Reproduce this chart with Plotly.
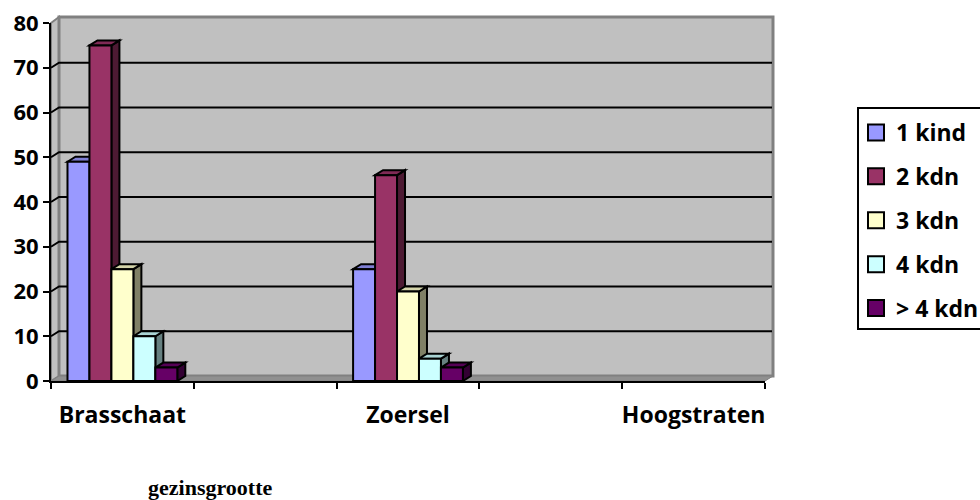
import plotly.graph_objects as go

categories = ["Brasschaat", " ", "Zoersel", "  ", "Hoogstraten"]
series_names = ["1 kind", "2 kdn", "3 kdn", "4 kdn", "> 4 kdn"]
kind1 = [49, None, 25, None, None]
kdn2 = [75, None, 46, None, None]
kdn3 = [25, None, 20, None, None]
kdn4 = [10, None, 5, None, None]
kdn5 = [3, None, 3, None, None]
series_values = [kind1, kdn2, kdn3, kdn4, kdn5]
y_ticks = [0, 10, 20, 30, 40, 50, 60, 70, 80]

front = ["#9999FF", "#993366", "#FFFFCC", "#CCFFFF", "#660066"]
top = ["#7F7FD4", "#7F2A55", "#D4D4AA", "#AAD4D4", "#550055"]
side = ["#4C4C80", "#4D1A33", "#808066", "#668080", "#330033"]

W, H = 980, 500
L, R, T, B = 51, 765, 23, 381
DX, DY = 8, 5
FONT = "Open Sans"
px_x = (R - L) / len(categories)
px_y = (B - T) / 80
GAP = 0.231
bar_w = (1 - GAP) / 5
dx = DX / px_x
dy = DY / px_y


def px(x):
    return (x - L) / (R - L)


def py(y):
    return (B - y) / (B - T)


def poly_paper(pts):
    return "M" + " L".join(f"{px(a):.5f},{py(b):.5f}" for a, b in pts) + " Z"


shapes = []
GREY = "#808080"
# left wall, floor, back wall
shapes.append(dict(type="path", xref="paper", yref="paper", layer="below",
                   path=poly_paper([(L, T), (L + DX, T - DY - 1), (L + DX, B - DY), (L, B)]),
                   fillcolor="#C0C0C0", line=dict(color=GREY, width=2)))
shapes.append(dict(type="path", xref="paper", yref="paper", layer="below",
                   path=poly_paper([(L + DX, T - DY - 1), (R + DX, T - DY - 1), (R + DX, B - DY), (L + DX, B - DY)]),
                   fillcolor="#C0C0C0", line=dict(color=GREY, width=3)))
shapes.append(dict(type="path", xref="paper", yref="paper", layer="below",
                   path=poly_paper([(L, B), (L + DX, B - DY), (R + DX, B - DY), (R, B)]),
                   fillcolor="#909090", line=dict(color=GREY, width=1)))
# gridlines on the back wall with their connection to the axis
for v in y_ticks[1:-1]:
    yp = B - v * px_y
    shapes.append(dict(type="path", xref="paper", yref="paper", layer="below",
                       path=f"M{px(L):.5f},{py(yp):.5f} L{px(L+DX):.5f},{py(yp-DY):.5f} L{px(R+DX-1):.5f},{py(yp-DY):.5f}",
                       line=dict(color="black", width=2)))

# depth faces of the bars, computed from the data
for c in range(len(categories)):
    for k, vals in enumerate(series_values):
        v = vals[c]
        if v is None:
            continue
        x0 = c - (1 - GAP) / 2 + k * bar_w
        x1 = x0 + bar_w
        shapes.append(dict(type="path", xref="x", yref="y", layer="below",
                           path=f"M{x1:.4f},0 L{x1+dx:.4f},{dy:.4f} L{x1+dx:.4f},{v+dy:.4f} L{x1:.4f},{v:.4f} Z",
                           fillcolor=side[k], line=dict(color="black", width=2)))
        shapes.append(dict(type="path", xref="x", yref="y", layer="below",
                           path=f"M{x0:.4f},{v:.4f} L{x0+dx:.4f},{v+dy:.4f} L{x1+dx:.4f},{v+dy:.4f} L{x1:.4f},{v:.4f} Z",
                           fillcolor=top[k], line=dict(color="black", width=2)))

# legend box, open at the right edge of the page
shapes.append(dict(type="rect", xref="paper", yref="paper", layer="above",
                   x0=px(858), x1=px(1000), y0=py(329), y1=py(108),
                   fillcolor="rgba(0,0,0,0)", line=dict(color="black", width=2)))

fig = go.Figure()
for k, name in enumerate(series_names):
    fig.add_trace(go.Bar(x=categories, y=series_values[k], name=name,
                         marker=dict(color=front[k], line=dict(color="black", width=2)),
                         showlegend=False))
for k, name in enumerate(series_names):
    fig.add_trace(go.Scatter(x=[categories[0]], y=[None], name=name, mode="markers",
                             legendgroup=name,
                             marker=dict(symbol="square", size=16, color=front[k],
                                         line=dict(color="black", width=2))))

fig.update_layout(
    width=W, height=H, autosize=False,
    margin=dict(l=L, r=W - R, t=T, b=H - B, pad=0, autoexpand=False),
    paper_bgcolor="white", plot_bgcolor="rgba(0,0,0,0)",
    font=dict(family=FONT, color="black"),
    barmode="group", bargap=GAP, bargroupgap=0,
    shapes=shapes,
    xaxis=dict(type="category", categoryorder="array", categoryarray=categories,
               tickson="boundaries", ticks="outside", ticklen=6, tickwidth=2, tickcolor="black",
               showline=True, linecolor="black", linewidth=2, showgrid=False, zeroline=False,
               range=[-0.5, 4.5], tickfont=dict(family=FONT, size=23, weight="bold"),
               ticklabelstandoff=12, tickangle=0),
    yaxis=dict(range=[0, 80], tickvals=y_ticks, ticks="outside", ticklen=6, tickwidth=2,
               tickcolor="black", showline=True, linecolor="black", linewidth=2,
               showgrid=False, zeroline=False,
               tickfont=dict(family=FONT, size=22, weight="bold")),
    legend=dict(x=px(856), y=py(111), xanchor="left", yanchor="top",
                font=dict(family=FONT, size=23, weight="bold"),
                tracegroupgap=11, traceorder="grouped", itemclick=False, itemdoubleclick=False,
                bgcolor="rgba(0,0,0,0)", borderwidth=0),
    annotations=[dict(text="<b>gezinsgrootte</b>", xref="paper", yref="paper",
                      x=px(146), y=py(487), xanchor="left", yanchor="middle", showarrow=False,
                      font=dict(family="Liberation Serif", size=22, color="black"))],
)
fig.write_html("out.html", post_script="document.body.style.margin='0';",
               config=dict(displayModeBar=False))
